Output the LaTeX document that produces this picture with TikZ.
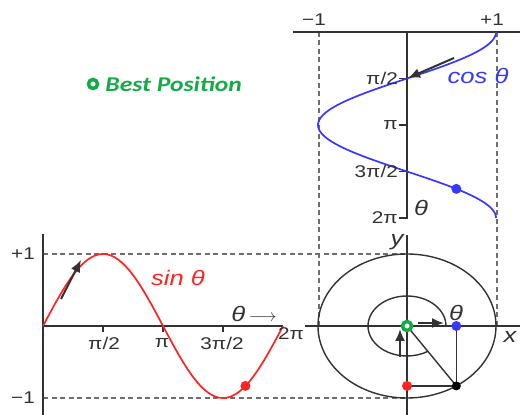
\documentclass[tikz,border=0pt]{standalone}
\usepackage{fontspec}
\setmainfont[FakeStretch=1.22]{Liberation Sans}
\newfontfamily\legendfont[FakeStretch=1.22]{Carlito}
\usepackage{xcolor}
\usetikzlibrary{arrows.meta,positioning}

\definecolor{axisgray}{RGB}{50,50,50}
\definecolor{dashgray}{RGB}{110,110,110}
\definecolor{sinred}{RGB}{255,35,35}
\definecolor{cosblue}{RGB}{55,55,255}
\definecolor{bestgreen}{RGB}{20,170,70}

\begin{document}
\begin{tikzpicture}[
  x=1pt, y=1pt,
  axis/.style={draw=axisgray, line width=1.8pt},
  thin axis/.style={draw=axisgray, line width=1.4pt},
  guide/.style={draw=dashgray, line width=1.1pt, dash pattern=on 5pt off 3.5pt},
  curve/.style={line width=1.7pt, domain=0:2*pi, samples=120, smooth},
  lbl/.style={font=\fontsize{17}{19}\selectfont, inner sep=1pt, text=axisgray},
  curvelbl/.style={font=\fontsize{21}{23}\selectfont\itshape, inner sep=1pt},
  dot/.style={circle, inner sep=0pt, minimum size=10pt},
  arr/.style={-{Latex[length=12pt,width=10pt]}, draw=axisgray, line width=2pt},
  best/.style={circle, draw=bestgreen, line width=3.5pt, fill=white, minimum size=9pt, inner sep=0pt}
]
\useasboundingbox (0,0) rectangle (520,415);
\def\th{5.3}

% key points
\coordinate (S0) at (43,89);    % sine origin
\coordinate (O) at (407,89);    % circle centre
\coordinate (C0) at (407,383);  % cosine origin
\coordinate (P) at ({407+89*cos(\th r)},{89+72*sin(\th r)});

% dashed guides
\coordinate (gl1) at (319,383);
\coordinate (gl2) at (319,89);
\coordinate (gr1) at (497,383);
\coordinate (gr2) at (497,89);
\coordinate (gt1) at (43,161);
\coordinate (gt2) at (407,161);
\coordinate (gb1) at (43,17);
\coordinate (gb2) at (407,17);
\draw[guide] (gl1) -- (gl2);
\draw[guide] (gr1) -- (gr2);
\draw[guide] (gt1) -- (gt2);
\draw[guide] (gb1) -- (gb2);

% unit circle
\draw[thin axis] (O) ellipse [x radius=89, y radius=72];
\draw[thin axis] (446,89) arc [start angle=0, end angle=303, x radius=39, y radius=30];
\draw[axis] (305,89) -- (520,89);
\draw[axis] (407,180) -- (407,0);

% sine graph
\draw[axis] (43,181) -- (43,0);
\draw[axis] (S0) -- (283,89);
\foreach \k in {1,2,3}
  \draw[axis] ({43+60*\k},89) -- ({43+60*\k},83);
\draw[curve, sinred] plot ({43+38.2*\x},{89+72*sin(\x r)});

% cosine graph
\draw[axis] (293,383) -- (520,383);
\draw[axis] (C0) -- (407,197) -- (399,197);
\foreach \k in {1,2,3}
  \draw[axis] (407,{383-46.5*\k}) -- (399,{383-46.5*\k});
\draw[curve, cosblue] plot ({407+89*cos(\x r)},{383-29.6*\x});

% projections of the point
\coordinate (px0) at (P |- O);
\coordinate (py0) at (O |- P);
\draw[thin axis] (O) -- (P);
\draw[thin axis] (P) -- (px0);
\draw[thin axis] (P) -- (py0);
\node[dot, fill=black, minimum size=9pt] (pt) at (P) {};
\node[dot, fill=cosblue] (px) at (px0) {};
\node[dot, fill=sinred] (py) at (py0) {};
\node[dot, fill=sinred] (sdot) at ({43+38.2*\th},{89+72*sin(\th r)}) {};
\node[dot, fill=cosblue] (cdot) at ({407+89*cos(\th r)},{383-29.6*\th}) {};

% direction arrows
\coordinate (a1) at (61,116);  \coordinate (b1) at (81,155);
\coordinate (a2) at (454,357); \coordinate (b2) at (408,337);
\coordinate (a3) at (418,92);  \coordinate (b3) at (444,92);
\coordinate (a4) at (400,58);  \coordinate (b4) at (400,86);
\draw[arr] (a1) -- (b1);
\draw[arr] (a2) -- (b2);
\draw[arr] (a3) -- (b3);
\draw[arr] (a4) -- (b4);

% best position
\node[best] (centre) at (O) {};
\node[best] (legdot) at (93,331) {};
\node[right=6pt of legdot, inner sep=0pt, text=bestgreen,
  font=\legendfont\fontsize{21}{23}\selectfont\bfseries\itshape] (legtext) {Best Position};

% labels
\node[lbl] (cm1) at (314,395) {−1};
\node[lbl] (cp1) at (492,395) {+1};
\node[lbl, anchor=east] (sp1) at (36,161) {+1};
\node[lbl, anchor=east] (sm1) at (36,17) {−1};
\node[lbl] (s1) at (104,72) {π/2};
\node[lbl] (s2) at (162,72) {π};
\node[lbl] (s3) at (222,72) {3π/2};
\node[lbl] (s4) at (291,81) {2π};
\node[lbl, anchor=east] (c1) at (399,336.5) {π/2};
\node[lbl, anchor=east] (c2) at (399,290) {π};
\node[lbl, anchor=east] (c3) at (399,243.5) {3π/2};
\node[lbl, anchor=east] (c4) at (399,197) {2π};
\node[curvelbl, text=cosblue] (coslbl) at (478,339) {cos θ};
\node[curvelbl, text=sinred] (sinlbl) at (178,137) {sin θ};
\node[curvelbl, text=axisgray] (thcos) at (421,207) {θ};
\node[curvelbl, text=axisgray] (thsin) at (254,101) {θ\,{\fontsize{16}{18}\selectfont$\longrightarrow$}};
\node[curvelbl, text=axisgray] (ylbl) at (397,173) {y};
\node[curvelbl, text=axisgray] (xlbl) at (510,78) {x};
\node[curvelbl, text=axisgray] (thcirc) at (456,102) {θ};
\end{tikzpicture}
\end{document}
